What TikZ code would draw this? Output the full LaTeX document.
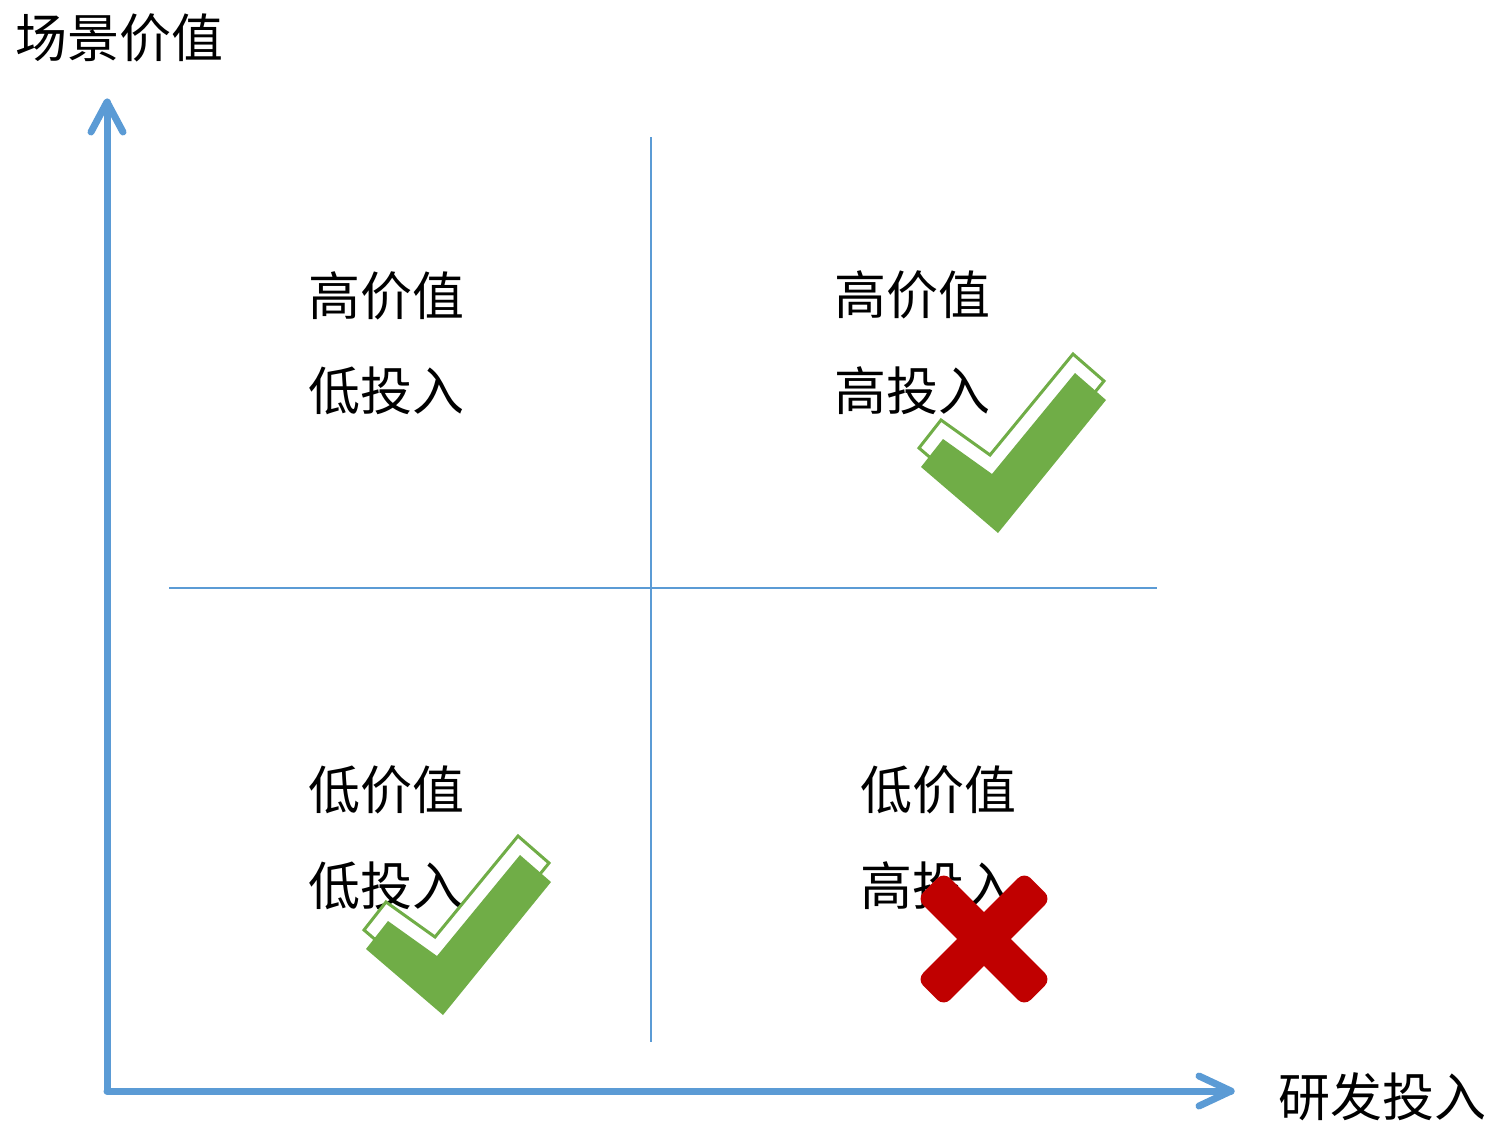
\documentclass[tikz,border=0pt]{standalone}
\usepackage{fontspec}
\newfontfamily\cjk{Noto Sans CJK SC}
\usetikzlibrary{calc}
\definecolor{axisblue}{HTML}{5B9BD5}
\definecolor{okgreen}{HTML}{70AD47}
\definecolor{nored}{HTML}{C00000}
\tikzset{
  axisline/.style={draw=axisblue, line width=7pt, line cap=round, line join=round},
  divider/.style={draw=axisblue, line width=2.5pt},
  label/.style={font=\cjk\fontsize{52}{60}\selectfont, inner sep=0pt, text=black},
  checkfill/.style={fill=okgreen},
  checkline/.style={draw=okgreen, fill=white, line width=3pt, line join=miter},
  crossfill/.style={fill=nored, rounded corners=9pt}
}
\newcommand{\checkshape}[1]{%
  ($(#1)+(0,0)$) -- ($(#1)+(-77,-66)$) -- ($(#1)+(-55,-94)$) -- ($(#1)+(-6,-59)$) -- ($(#1)+(77,-160)$) -- ($(#1)+(108,-133)$) -- cycle}
\begin{document}
\begin{tikzpicture}[x=1pt,y=-1pt]
\useasboundingbox (0,0) rectangle (1491,1122);
% coordinates
\coordinate (O) at (107,1091);
\coordinate (ytip) at (107,102);
\coordinate (xtip) at (1231,1091);
\coordinate (vtop) at (651,137);
\coordinate (vbot) at (651,1042);
\coordinate (hl) at (169,588);
\coordinate (hr) at (1157,588);
% dividers
\draw[divider] (vtop) -- (vbot);
\draw[divider] (hl) -- (hr);
% axes
\draw[axisline] (O) -- (ytip);
\draw[axisline] ($(ytip)+(-16,30)$) -- (ytip) -- ($(ytip)+(16,30)$);
\draw[axisline] (O) -- (xtip);
\draw[axisline] ($(xtip)+(-32,-15)$) -- (xtip) -- ($(xtip)+(-32,15)$);
% axis labels
\node[label] (ylab) at (120,38) {场景价值};
\node[label] (xlab) at (1382,1097) {研发投入};
% quadrant labels
\node[label] (q1a) at (386,296) {高价值};
\node[label] (q1b) at (386,391) {低投入};
\node[label] (q2a) at (912,295) {高价值};
\node[label] (q2b) at (912,391) {高投入};
\node[label] (q3a) at (386,790) {低价值};
\node[label] (q3b) at (386,886) {低投入};
\node[label] (q4a) at (938,790) {低价值};
\node[label] (q4b) at (938,886) {高投入};
% check marks
\coordinate (c1) at (998,533);
\coordinate (c1o) at (996,514);
\coordinate (c2) at (443,1015);
\coordinate (c2o) at (441,996);
\path[checkline] \checkshape{c1o};
\path[checkfill] \checkshape{c1};
\path[checkline] \checkshape{c2o};
\path[checkfill] \checkshape{c2};
% cross
\coordinate (x0) at (984,939);
\fill[crossfill, rotate around={45:(x0)}] ($(x0)+(-76,-19)$) rectangle ($(x0)+(76,19)$);
\fill[crossfill, rotate around={-45:(x0)}] ($(x0)+(-76,-19)$) rectangle ($(x0)+(76,19)$);
\end{tikzpicture}
\end{document}
